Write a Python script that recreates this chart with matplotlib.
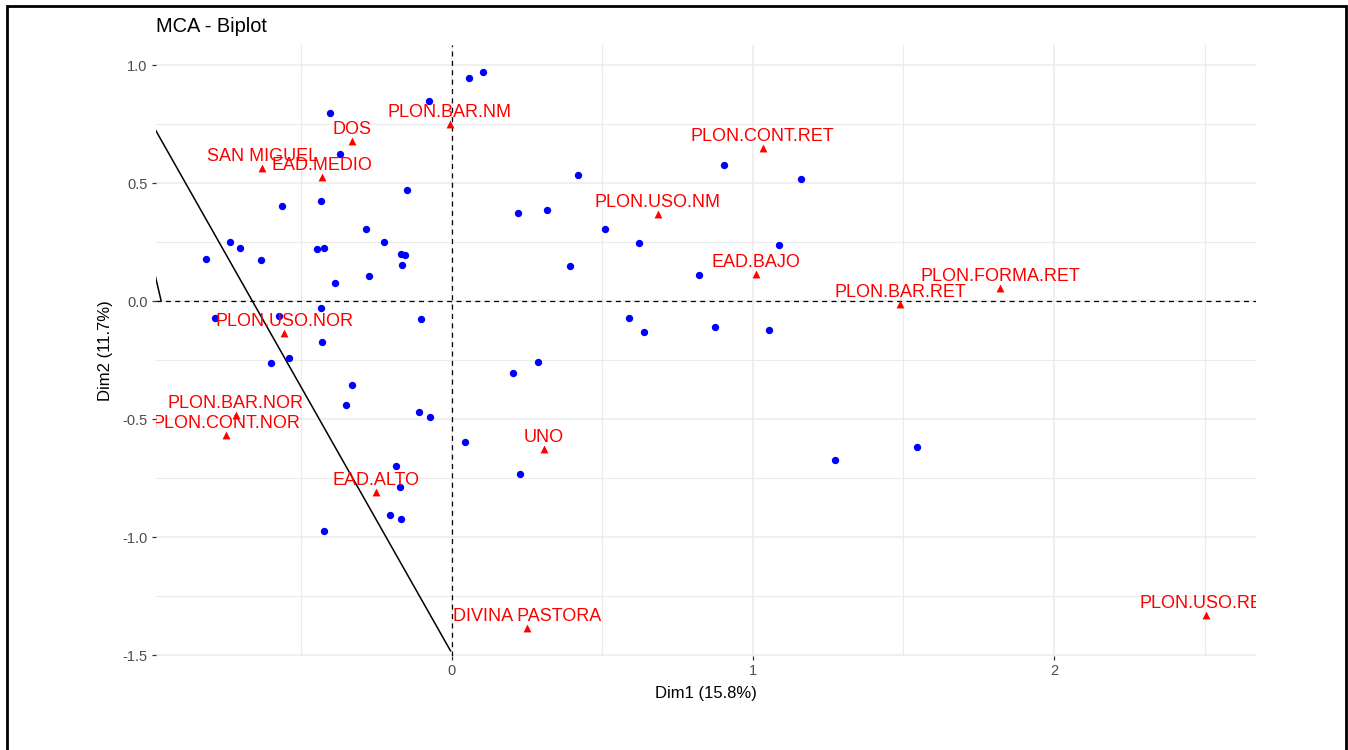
import numpy as np
import matplotlib
matplotlib.use("Agg")
import matplotlib.pyplot as plt
from matplotlib.patches import Rectangle
from matplotlib.ticker import MultipleLocator, FuncFormatter

plt.rcParams['font.family'] = ['Liberation Sans', 'DejaVu Sans']

# Individuos (puntos azules)
ind_x = [-0.817, -0.737, -0.703, -0.634, -0.565, -0.446, -0.425, -0.434, -0.405, -0.372,
         -0.283, -0.226, -0.169, -0.156, -0.165, -0.273, -0.389, -0.147, -0.075,
         -0.785, -0.574, -0.434, -0.430, -0.600, -0.539, -0.331, -0.352, -0.109, -0.072,
         -0.103, -0.185, -0.173, -0.206, -0.169, -0.424,
         0.056, 0.104, 0.419, 0.219, 0.317, 0.508, 0.622, 0.393, 0.822, 0.904, 1.160, 1.087,
         0.589, 0.639, 0.875, 1.054, 0.204, 0.287, 0.043, 0.227, 1.273, 1.544]
ind_y = [0.178, 0.251, 0.225, 0.172, 0.401, 0.219, 0.225, 0.422, 0.797, 0.624,
         0.304, 0.251, 0.199, 0.194, 0.151, 0.105, 0.075, 0.469, 0.846,
         -0.071, -0.065, -0.031, -0.175, -0.264, -0.243, -0.357, -0.441, -0.472, -0.493,
         -0.078, -0.700, -0.789, -0.908, -0.924, -0.975,
         0.944, 0.969, 0.533, 0.372, 0.386, 0.304, 0.246, 0.147, 0.110, 0.575, 0.516, 0.236,
         -0.071, -0.133, -0.111, -0.124, -0.305, -0.260, -0.596, -0.732, -0.675, -0.620]

# Categorias (triangulos rojos)
cat_labels = ['PLON.BAR.NM', 'DOS', 'SAN MIGUEL', 'EAD.MEDIO', 'PLON.USO.NOR',
              'PLON.BAR.NOR', 'PLON.CONT.NOR', 'EAD.ALTO', 'PLON.CONT.RET', 'PLON.USO.NM',
              'EAD.BAJO', 'UNO', 'PLON.BAR.RET', 'PLON.FORMA.RET', 'PLON.USO.RET',
              'DIVINA PASTORA']
cat_x = [-0.007, -0.331, -0.629, -0.431, -0.556, -0.717, -0.748, -0.250, 1.033, 0.684,
         1.011, 0.306, 1.490, 1.822, 2.506, 0.249]
cat_y = [0.751, 0.679, 0.565, 0.524, -0.137, -0.482, -0.568, -0.808, 0.650, 0.369,
         0.113, -0.627, -0.013, 0.055, -1.329, -1.386]

# Lineas negras solidas
linea1_x = [-0.990, -0.004]
linea1_y = [0.739, -1.482]
linea2_x = [-0.985, -0.965]
linea2_y = [0.110, 0.001]

fig = plt.figure(figsize=(13.48, 7.5), dpi=100)
ax = fig.add_axes([156/1348, 1 - 656/750, 1100/1348, 611/750])

ax.set_xlim(-0.982, 2.671)
ax.set_ylim(-1.504, 1.085)

# rejilla estilo theme_minimal
ax.xaxis.set_major_locator(MultipleLocator(1))
ax.xaxis.set_minor_locator(MultipleLocator(0.5))
ax.yaxis.set_major_locator(MultipleLocator(0.5))
ax.yaxis.set_minor_locator(MultipleLocator(0.25))
ax.set_axisbelow(True)
ax.grid(True, which='major', color='#EBEBEB', linewidth=1.1)
ax.grid(True, which='minor', color='#EBEBEB', linewidth=0.8)
for s in ax.spines.values():
    s.set_visible(False)
ax.tick_params(which='major', length=3, width=0.9, color='#333333',
               labelsize=10.5, labelcolor='#4D4D4D', pad=3)
ax.tick_params(which='minor', length=0)
ax.xaxis.set_major_formatter(FuncFormatter(lambda v, p: f"{v:g}"))
ax.yaxis.set_major_formatter(FuncFormatter(lambda v, p: f"{v:.1f}"))

ax.axhline(0, color='black', linestyle=(0, (4, 3.5)), linewidth=0.9)
ax.axvline(0, color='black', linestyle=(0, (4, 3.5)), linewidth=0.9)

ax.plot(linea1_x, linea1_y, color='black', linewidth=1.1)
ax.plot(linea2_x, linea2_y, color='black', linewidth=1.1)

ax.scatter(ind_x, ind_y, s=28, color='#0000FF', zorder=3, linewidths=0)
ax.scatter(cat_x, cat_y, s=32, marker='^', color='#FF0000', zorder=4, linewidths=0)

# etiquetas de las categorias, recortadas al panel
for lab, x, y in zip(cat_labels, cat_x, cat_y):
    t = ax.annotate(lab, (x, y), xytext=(0, 5), textcoords='offset points',
                    ha='center', va='baseline', color='#FF0000', fontsize=13, zorder=5)
    t.set_clip_box(ax.bbox)
    t.set_clip_on(True)

ax.set_xlabel('Dim1 (15.8%)', fontsize=12, color='black')
ax.set_ylabel('Dim2 (11.7%)', fontsize=12, color='black')
ax.xaxis.set_label_coords(0.5, -0.049)
ax.yaxis.set_label_coords(-0.039, 0.5)
ax.set_title('MCA - Biplot', loc='left', fontsize=14.4, pad=9.4)

# marco negro alrededor de la figura
fig.add_artist(Rectangle((6.5/1348, -0.05), (1346 - 6.5)/1348, 1.05 - 5.5/750,
                         transform=fig.transFigure, fill=False, edgecolor='black',
                         linewidth=2.0, clip_on=False))

fig.savefig('out.png', dpi=100)
